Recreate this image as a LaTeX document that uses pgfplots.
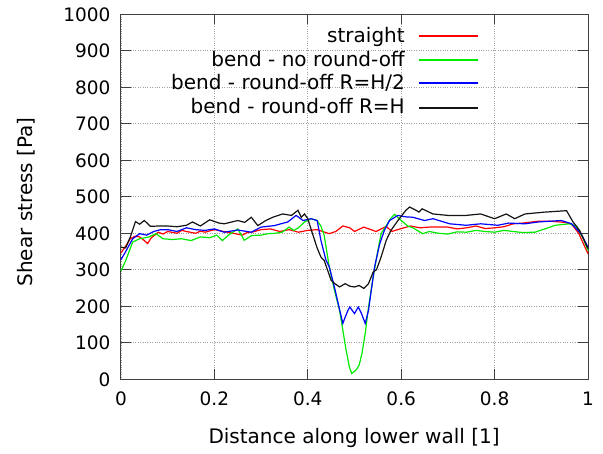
\documentclass[border=0pt]{standalone}
\usepackage{fontspec}
\setmainfont{DejaVu Sans}
\usepackage{pgfplots}
\pgfplotsset{compat=1.18}
\definecolor{axgray}{RGB}{64,64,64}
\definecolor{gridgray}{RGB}{160,160,160}
\definecolor{cred}{RGB}{255,0,0}
\definecolor{cgreen}{RGB}{0,235,0}
\definecolor{cblue}{RGB}{0,0,255}
\definecolor{cblack}{RGB}{20,20,20}
\begin{document}
\begin{tikzpicture}
\begin{axis}[
  at={(0pt,0pt)}, anchor=south west,
  scale only axis, width=467pt, height=365pt,
  xmin=0, xmax=1, ymin=0, ymax=1000,
  xtick={0,0.2,0.4,0.6,0.8,1}, ytick={0,100,...,1000},
  xticklabels={0,0.2,0.4,0.6,0.8,1},
  tick align=inside, major tick length=10pt,
  grid=major, major grid style={dotted, gridgray, line width=0.7pt},
  axis line style={axgray, line width=1pt},
  tick style={axgray, line width=1pt},
  font=\fontsize{18.5}{21}\selectfont,
  /pgf/number format/assume math mode=true,
  /pgf/number format/1000 sep={},
  xticklabel style={yshift=-9pt},
  yticklabel style={xshift=-7pt},
  xlabel={Distance along lower wall [1]},
  ylabel={Shear stress [Pa]},
  label style={font=\fontsize{20}{22}\selectfont},
  xlabel style={at={(axis description cs:0.499,-0.177)}, anchor=base},
  ylabel style={at={(axis description cs:-0.190,0.486)}, anchor=base},
  clip=false,
]
\addplot[cred, line width=1.2pt] coordinates {
(0,346) (0.01,365) (0.02,385) (0.03,392) (0.04,390) (0.05,380) (0.057,372) (0.065,388) (0.08,403) (0.09,398) (0.1,405) (0.12,400) (0.13,408) (0.14,405) (0.16,400) (0.17,406) (0.18,403) (0.2,410) (0.22,405) (0.24,400) (0.26,395) (0.27,402) (0.28,403) (0.30,410) (0.32,412) (0.34,405) (0.36,410) (0.38,403) (0.40,408) (0.42,410) (0.446,399) (0.46,405) (0.475,420) (0.49,415) (0.50,405) (0.52,417) (0.546,405) (0.568,419) (0.58,405) (0.60,413) (0.62,420) (0.64,415) (0.66,417) (0.70,417) (0.72,412) (0.74,415) (0.76,420) (0.78,413) (0.80,415) (0.82,418) (0.84,426) (0.86,428) (0.893,433) (0.92,433) (0.95,430) (0.965,425) (0.98,400) (1.0,344)
};
\addplot[cgreen, line width=1.2pt] coordinates {
(0,297) (0.01,325) (0.025,376) (0.04,385) (0.06,390) (0.075,399) (0.09,385) (0.11,383) (0.13,385) (0.15,380) (0.17,390) (0.19,388) (0.205,395) (0.217,380) (0.23,395) (0.25,412) (0.264,381) (0.28,394) (0.30,395) (0.315,399) (0.33,400) (0.345,403) (0.36,417) (0.37,408) (0.38,415) (0.393,431) (0.407,440) (0.42,435) (0.428,420) (0.435,395) (0.446,308) (0.457,244) (0.468,189) (0.475,135) (0.482,80) (0.489,34) (0.494,16) (0.50,22) (0.503,25) (0.51,39) (0.516,71) (0.523,126) (0.53,198) (0.54,280) (0.55,353) (0.557,399) (0.568,421) (0.577,440) (0.586,452) (0.60,435) (0.614,420) (0.625,415) (0.646,399) (0.66,405) (0.68,400) (0.70,398) (0.72,404) (0.74,403) (0.76,408) (0.78,405) (0.80,403) (0.82,408) (0.84,405) (0.86,402) (0.886,403) (0.91,413) (0.93,422) (0.96,426) (0.975,420) (0.99,385) (1.0,353)
};
\addplot[cblue, line width=1.2pt] coordinates {
(0,328) (0.01,350) (0.025,385) (0.04,399) (0.055,395) (0.07,405) (0.085,410) (0.1,410) (0.12,405) (0.14,415) (0.16,410) (0.18,408) (0.2,412) (0.221,403) (0.25,409) (0.279,403) (0.30,417) (0.328,421) (0.357,431) (0.375,449) (0.39,435) (0.407,440) (0.42,435) (0.428,381) (0.439,326) (0.446,308) (0.457,253) (0.465,208) (0.475,153) (0.48,170) (0.486,189) (0.49,198) (0.50,180) (0.508,198) (0.515,180) (0.523,153) (0.53,189) (0.536,244) (0.543,308) (0.554,371) (0.564,408) (0.575,435) (0.593,449) (0.61,445) (0.625,444) (0.636,440) (0.65,435) (0.668,440) (0.704,426) (0.739,422) (0.77,426) (0.807,422) (0.83,428) (0.865,426) (0.893,431) (0.943,435) (0.965,426) (0.985,399) (1.0,362)
};
\addplot[cblack, line width=1.2pt] coordinates {
(0,362) (0.01,360) (0.02,390) (0.031,432) (0.04,425) (0.05,435) (0.063,419) (0.08,420) (0.1,420) (0.12,418) (0.14,422) (0.153,431) (0.17,420) (0.19,437) (0.21,428) (0.221,426) (0.25,435) (0.265,430) (0.279,444) (0.293,421) (0.31,435) (0.325,444) (0.346,453) (0.365,449) (0.379,463) (0.386,444) (0.393,453) (0.40,440) (0.41,399) (0.42,360) (0.428,335) (0.435,326) (0.45,271) (0.458,262) (0.468,253) (0.48,262) (0.49,255) (0.50,253) (0.51,257) (0.52,249) (0.53,262) (0.54,294) (0.547,300) (0.557,335) (0.568,381) (0.578,408) (0.593,435) (0.61,463) (0.618,472) (0.632,463) (0.638,458) (0.645,467) (0.668,453) (0.70,449) (0.739,449) (0.77,453) (0.80,440) (0.825,453) (0.843,440) (0.865,453) (0.907,458) (0.954,462) (0.968,431) (0.982,408) (1.0,358)
};
% legend: sample lines from data, text as nodes
\addplot[cred, line width=1.8pt, forget plot] coordinates {(0.638,941) (0.764,941)};
\addplot[cgreen, line width=1.8pt, forget plot] coordinates {(0.638,875) (0.764,875)};
\addplot[cblue, line width=1.8pt, forget plot] coordinates {(0.638,811) (0.764,811)};
\addplot[cblack, line width=1.8pt, forget plot] coordinates {(0.638,744) (0.764,744)};
\node[anchor=base east, font=\fontsize{20}{22}\selectfont, inner sep=0pt] at (axis cs:0.608,923) {straight};
\node[anchor=base east, font=\fontsize{20}{22}\selectfont, inner sep=0pt] at (axis cs:0.608,858) {bend - no round-off};
\node[anchor=base east, font=\fontsize{20}{22}\selectfont, inner sep=0pt] at (axis cs:0.608,793) {bend - round-off R=H/2};
\node[anchor=base east, font=\fontsize{20}{22}\selectfont, inner sep=0pt] at (axis cs:0.608,727) {bend - round-off R=H};
\end{axis}
\pgfresetboundingbox
\path[use as bounding box] (-121pt,-73.7pt) rectangle (482pt,379.3pt);
\end{tikzpicture}
\end{document}
